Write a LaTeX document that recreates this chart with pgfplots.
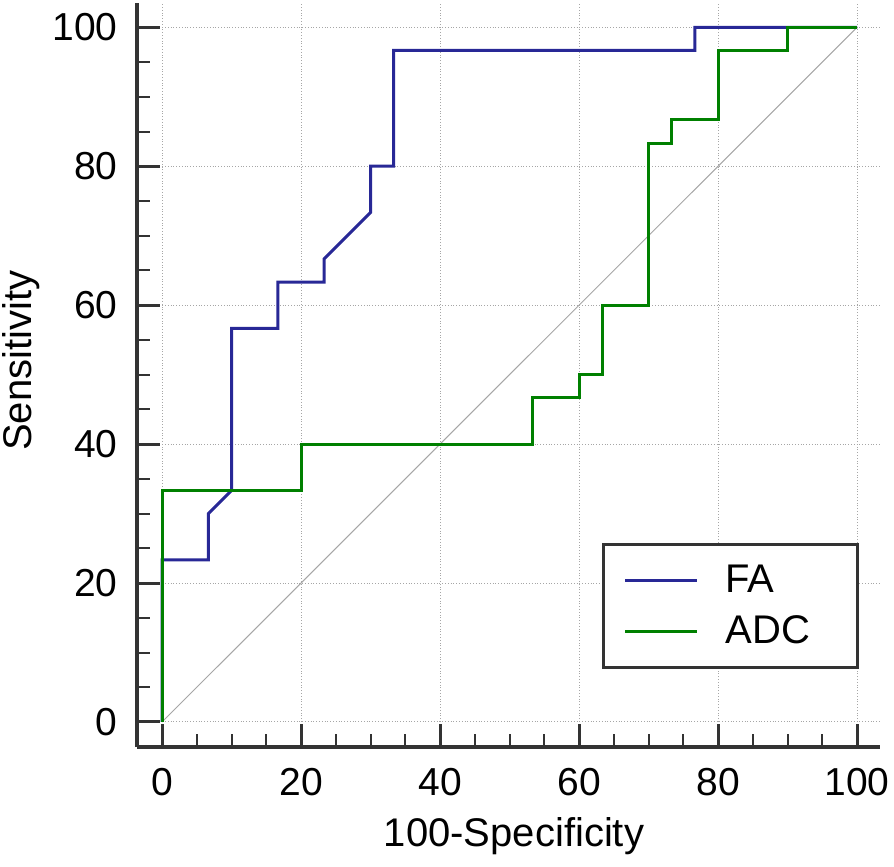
\documentclass[border=0pt]{standalone}
\usepackage{fontspec}
\setmainfont{Liberation Sans}
\usepackage{pgfplots}
\pgfplotsset{compat=1.18}
\definecolor{fablue}{RGB}{40,40,150}
\definecolor{adcgreen}{RGB}{0,128,0}
\definecolor{axgray}{RGB}{51,51,51}
\newcommand{\fs}{\fontsize{19.5pt}{23pt}\selectfont}
\newcommand{\fl}{\fontsize{20pt}{24pt}\selectfont}
\begin{document}
\begin{tikzpicture}
\useasboundingbox (-68.5pt,-60pt) rectangle (378.5pt,373.5pt);
\begin{axis}[
  at={(0,0)}, anchor=south west,
  scale only axis, width=371.5pt, height=372pt,
  xmin=-3.6, xmax=103.3, ymin=-3.6, ymax=103.5,
  axis lines=left,
  axis line style={-, line width=2pt, color=axgray},
  xtick={0,20,...,100}, ytick={0,20,...,100},
  minor tick num=3,
  tick align=inside, xtick pos=left, ytick pos=left,
  major tick length=11.5pt, minor tick length=6.5pt,
  major tick style={line width=1.5pt, color=axgray},
  minor tick style={line width=1pt, color=axgray},
  grid=major,
  major grid style={densely dotted, color=black!35, line width=0.5pt},
  /pgf/number format/assume math mode=true,
  xticklabel style={font=\fs, inner sep=0pt, anchor=north, yshift=-10.5pt},
  yticklabel style={font=\fs, inner sep=0pt, anchor=east, xshift=-9.5pt},
  xlabel={100-Specificity},
  ylabel={Sensitivity},
  xlabel style={font=\fl, at={(axis description cs:0.5074,-0.0941)}, anchor=north, inner sep=0pt},
  ylabel style={font=\fl, at={(axis description cs:-0.1817,0.519)}, anchor=north, inner sep=0pt},
  legend style={at={(axis cs:100.3,7.63)}, anchor=south east, draw=axgray, line width=1.5pt, fill=white,
    font=\fl, inner xsep=10pt, inner ysep=10.5pt, row sep=10pt, column sep=13.5pt, nodes={inner sep=0pt}},
  legend cell align=left,
  legend image code/.code={\draw[#1, line width=1.5pt] (0pt,0pt) -- (36pt,0pt);},
]
\addplot[forget plot, color=black!35, line width=0.5pt] coordinates {(0,0) (100,100)};
\addplot[color=fablue, line width=1.5pt, line join=miter] coordinates {
 (0,0) (0,23.33) (6.67,23.33) (6.67,30) (10,33.33) (10,56.67) (16.67,56.67) (16.67,63.33)
 (23.33,63.33) (23.33,66.67) (30,73.33) (30,80) (33.33,80) (33.33,96.67) (76.67,96.67)
 (76.67,100) (100,100)};
\addlegendentry{\makebox[56pt][l]{FA}}
\addplot[color=adcgreen, line width=1.5pt, line join=miter] coordinates {
 (0,0) (0,33.33) (20,33.33) (20,40) (53.33,40) (53.33,46.67) (60,46.67) (60,50) (63.33,50)
 (63.33,60) (70,60) (70,83.33) (73.33,83.33) (73.33,86.67) (80,86.67) (80,96.67) (90,96.67)
 (90,100) (100,100)};
\addlegendentry{\makebox[56pt][l]{ADC}}
\end{axis}
\end{tikzpicture}
\end{document}
